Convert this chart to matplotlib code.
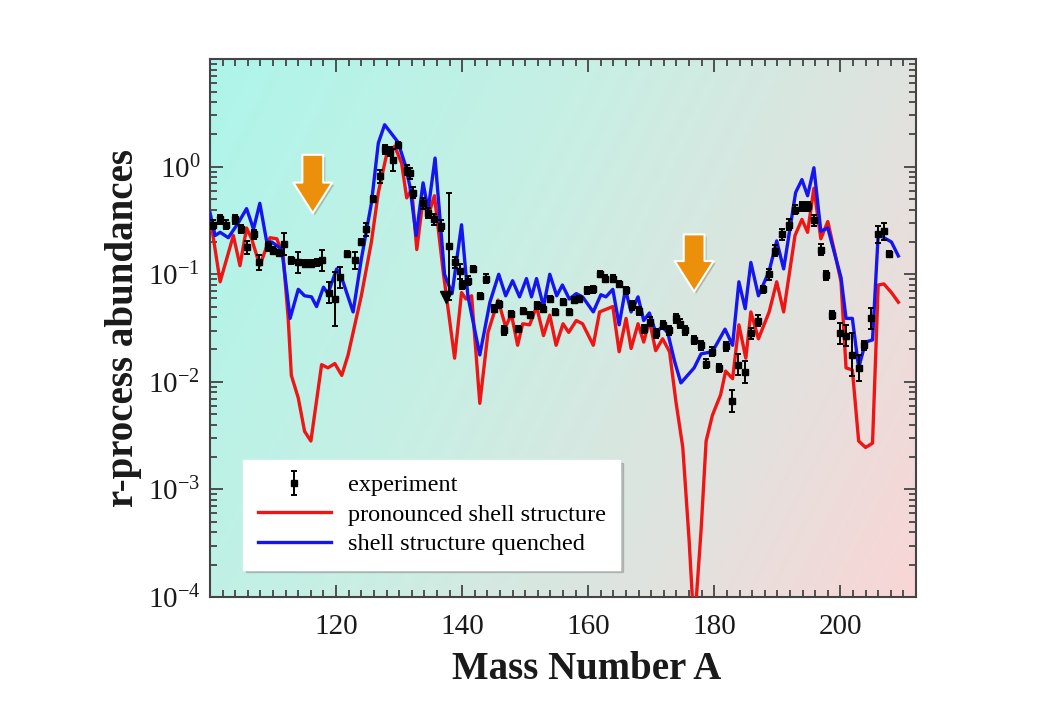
import numpy as np
import matplotlib.pyplot as plt
import matplotlib.patheffects as pe
from matplotlib.colors import LinearSegmentedColormap
from matplotlib.ticker import MultipleLocator, LogLocator, NullFormatter

plt.rcParams['font.family'] = ['Liberation Serif', 'DejaVu Serif']
plt.rcParams['mathtext.fontset'] = 'custom'
plt.rcParams['mathtext.rm'] = 'Liberation Serif'
plt.rcParams['axes.unicode_minus'] = False

# ---- data (abundances read as log10 values) ----
blue_A = [100.0, 100.8, 101.6, 102.9, 104.5, 105.8, 106.9, 107.9, 109.0, 109.8,
          111.4, 112.7, 114.0, 115.0, 116.1, 116.9, 118.0, 118.7, 120.1, 121.1,
          122.7, 124.0, 125.6, 126.7, 127.7, 129.8, 130.9, 131.7, 132.7, 133.8,
          134.6, 135.7, 137.2, 138.4, 139.9, 140.9, 142.8, 144.4, 145.8, 146.9,
          148.0, 149.1, 150.2, 151.0, 151.8, 152.9, 153.9, 155.0, 155.9, 157.0,
          158.1, 159.1, 160.8, 162.0, 162.8, 163.9, 164.9, 165.9, 166.8, 167.9,
          168.8, 169.7, 170.7, 171.7, 172.6, 173.7, 174.7, 176.8, 177.9, 179.7,
          181.7, 182.9, 183.9, 184.9, 185.8, 187.0, 188.7, 189.9, 191.0, 192.9,
          193.9, 194.8, 195.8, 196.9, 198.0, 200.1, 200.9, 201.9, 202.9, 204.0,
          205.1, 206.0, 206.9, 208.1, 209.2]
blue_log = [-0.43, -0.64, -0.61, -0.66, -0.52, -0.39, -0.58, -0.34, -0.70, -0.70,
            -0.77, -1.41, -1.14, -1.20, -1.21, -1.30, -1.12, -1.18, -0.95, -1.07,
            -1.35, -0.86, -0.34, 0.22, 0.39, 0.23, 0.03, -0.18, -0.64, -0.15,
            -0.40, 0.08, -1.00, -1.18, -0.54, -1.20, -1.75, -1.26, -1.00, -1.20,
            -1.06, -1.21, -1.04, -1.21, -1.04, -1.30, -1.00, -1.20, -1.10, -1.23,
            -1.18, -1.21, -1.35, -1.19, -1.21, -1.14, -1.47, -1.14, -1.35, -1.21,
            -1.43, -1.36, -1.54, -1.49, -1.54, -1.81, -2.01, -1.87, -1.74, -1.72,
            -1.51, -1.66, -1.07, -1.32, -0.89, -1.20, -0.97, -0.69, -0.95, -0.24,
            -0.12, -0.27, -0.01, -0.60, -0.57, -1.03, -1.41, -1.41, -1.87, -1.63,
            -1.61, -0.63, -0.66, -0.70, -0.83]

red_A = [100.0, 101.6, 103.7, 104.75, 105.8, 106.6, 107.9, 109.5, 110.6, 111.6,
         112.4, 112.9, 114.0, 115.0, 116.0, 117.7, 118.7, 119.8, 120.9, 121.9,
         124.0, 125.6, 126.7, 128.0, 129.3, 130.4, 131.2, 132.0, 132.8, 133.8,
         134.6, 135.6, 137.0, 138.8, 139.9, 140.6, 141.5, 142.8, 144.1, 145.7,
         146.9, 147.8, 148.8, 149.6, 150.7, 151.8, 152.9, 153.9, 154.9, 156.0,
         156.9, 158.1, 159.1, 160.8, 161.8, 163.9, 164.9, 166.0, 166.8, 167.9,
         168.8, 169.7, 170.7, 171.8, 172.9, 173.9, 175.0, 176.0, 176.8, 177.9,
         178.7, 179.7, 181.0, 181.8, 182.9, 183.9, 185.0, 185.8, 187.0, 188.7,
         189.9, 191.0, 192.8, 193.9, 194.8, 195.8, 196.9, 198.0, 199.0, 200.1,
         200.9, 201.9, 202.9, 204.0, 205.1, 206.0, 206.9, 208.1, 209.2]
red_log = [-0.46, -1.07, -0.64, -0.92, -0.57, -0.67, -0.92, -0.66, -0.67, -0.83,
           -1.41, -1.94, -2.15, -2.46, -2.55, -1.84, -1.87, -1.83, -1.94, -1.75,
           -1.20, -0.70, -0.24, 0.11, 0.19, 0.03, -0.29, -0.21, -0.77, -0.30,
           -0.46, -0.27, -0.98, -1.78, -1.17, -1.23, -1.20, -2.20, -1.54, -1.24,
           -1.49, -1.37, -1.66, -1.46, -1.47, -1.30, -1.57, -1.38, -1.66, -1.46,
           -1.54, -1.43, -1.46, -1.66, -1.35, -1.30, -1.72, -1.41, -1.69, -1.46,
           -1.63, -1.43, -1.71, -1.60, -1.72, -2.18, -2.61, -3.47, -4.30, -3.38,
           -2.55, -2.31, -2.12, -1.90, -1.97, -1.47, -1.78, -1.35, -1.60, -1.35,
           -1.07, -1.35, -0.64, -0.49, -0.61, -0.20, -0.67, -0.51, -0.77, -1.07,
           -1.87, -1.89, -2.55, -2.61, -2.57, -1.10, -1.09, -1.17, -1.26]

exp_A = [100.5, 101.6, 102.6, 104.0, 104.9, 105.8, 106.9, 107.7, 109.2, 110.0,
         110.9, 111.8, 112.9, 114.0, 115.0, 116.0, 116.9, 117.8, 118.8, 119.8,
         120.6, 121.7, 123.0, 124.0, 124.8, 125.9, 126.9, 127.7, 128.5, 129.0,
         129.8, 131.2, 131.8, 132.2, 133.8, 134.6, 135.6, 136.7, 137.9, 138.8,
         139.6, 139.9, 140.9, 141.7, 142.8, 143.8, 145.1, 145.8, 146.7, 147.8,
         148.8, 149.7, 150.7, 151.8, 152.9, 153.9, 154.8, 156.0, 156.9, 157.8,
         158.6, 159.8, 160.8, 161.8, 162.7, 163.9, 164.9, 166.0, 166.9, 168.0,
         168.8, 169.8, 170.7, 171.8, 172.8, 173.9, 174.5, 175.3, 176.8, 177.9,
         178.7, 179.7, 180.8, 181.8, 182.8, 183.8, 184.8, 185.8, 186.9, 187.7,
         188.7, 189.7, 190.8, 191.8, 192.8, 193.9, 194.8, 195.8, 196.9, 197.7,
         198.7, 199.9, 200.9, 201.8, 202.9, 203.8, 204.8, 205.9, 206.9, 207.7]
exp_log = [-0.54, -0.49, -0.54, -0.49, -0.58, -0.75, -0.63, -0.89, -0.74, -0.78,
           -0.80, -0.72, -0.87, -0.89, -0.90, -0.90, -0.89, -0.87, -1.17, -1.23,
           -1.03, -0.81, -0.87, -0.70, -0.58, -0.30, -0.09, 0.16, 0.14, 0.06,
           0.20, -0.03, -0.06, -0.24, -0.34, -0.43, -0.49, -0.55, -0.74, -0.89,
           -0.97, -1.10, -1.06, -0.95, -1.20, -1.04, -1.32, -1.28, -1.52, -1.37,
           -1.51, -1.34, -1.38, -1.29, -1.32, -1.23, -1.35, -1.26, -1.35, -1.24,
           -1.23, -1.15, -1.14, -1.00, -1.04, -1.04, -1.09, -1.15, -1.29, -1.34,
           -1.51, -1.44, -1.55, -1.47, -1.52, -1.41, -1.46, -1.52, -1.61, -1.66,
           -1.83, -1.72, -1.87, -1.67, -2.18, -1.84, -1.91, -1.55, -1.43, -1.14,
           -1.00, -0.78, -0.63, -0.54, -0.40, -0.37, -0.37, -0.50, -0.77, -1.01,
           -1.38, -1.55, -1.57, -1.75, -1.87, -1.66, -1.41, -0.63, -0.60, -0.81]
exp_err = [0.04, 0.04, 0.04, 0.04, 0.04, 0.06, 0.04, 0.07, 0.04, 0.03,
           0.03, 0.10, 0.03, 0.10, 0.03, 0.03, 0.03, 0.10, 0.10, 0.25,
           0.10, 0.03, 0.08, 0.03, 0.06, 0.03, 0.06, 0.04, 0.04, 0.10,
           0.03, 0.05, 0.05, 0.05, 0.05, 0.05, 0.05, 0.05, 0.50, 0.05,
           0.07, 0.04, 0.04, 0.03, 0.03, 0.04, 0.03, 0.03, 0.04, 0.03,
           0.03, 0.03, 0.03, 0.03, 0.03, 0.03, 0.03, 0.03, 0.03, 0.03,
           0.03, 0.03, 0.03, 0.03, 0.03, 0.03, 0.03, 0.03, 0.04, 0.04,
           0.04, 0.04, 0.04, 0.04, 0.04, 0.04, 0.04, 0.04, 0.04, 0.04,
           0.04, 0.04, 0.04, 0.04, 0.10, 0.10, 0.10, 0.05, 0.05, 0.03,
           0.05, 0.05, 0.05, 0.05, 0.04, 0.04, 0.04, 0.05, 0.05, 0.04,
           0.04, 0.10, 0.10, 0.20, 0.12, 0.04, 0.10, 0.08, 0.08, 0.03]

limit_A = [137.5]
limit_log = [-1.21]

# arrows marking the shell-closure regions (A, top value, tip value)
arrow_A = [116.3, 176.8]
arrow_top = [1.29, 0.235]
arrow_tip = [0.37, 0.069]

x_ticks = [120, 140, 160, 180, 200]
labels = ['experiment', 'pronounced shell structure', 'shell structure quenched']

# ---- figure ----
fig = plt.figure(figsize=(10.47, 7.21), dpi=100)
ax = fig.add_axes([0.2006, 0.172, 0.6743, 0.746])

bg = LinearSegmentedColormap.from_list(
    'bg', [(0, '#aef5ea'), (0.4, '#c8efe4'), (0.72, '#e0e3df'), (1, '#f9d6d6')])
u, v = np.meshgrid(np.linspace(0, 1, 300), np.linspace(0, 1, 300))
ax.imshow(0.72 * u + 0.28 * (1 - v), cmap=bg, extent=[0, 1, 0, 1],
          origin='lower', transform=ax.transAxes, aspect='auto', zorder=0,
          interpolation='bilinear')

ax.set_yscale('log')
ax.set_xlim(100, 212)
ax.set_ylim(1e-4, 10)

red_line, = ax.plot(red_A, np.power(10.0, red_log), color='#f01515', lw=2.4, zorder=3)
blue_line, = ax.plot(blue_A, np.power(10.0, blue_log), color='#1515f0', lw=2.4, zorder=4)

ev = np.power(10.0, exp_log)
ee = np.array(exp_err)
err = ax.errorbar(exp_A, ev, yerr=[ev - ev * 10 ** -ee, ev * 10 ** ee - ev],
                  fmt='s', color='black', ms=4.3, capsize=2.4, elinewidth=1.4,
                  capthick=1.4, zorder=5)
ax.plot(limit_A, np.power(10.0, limit_log), 'v', color='black', ms=8, zorder=5)

for a, top, tip in zip(arrow_A, arrow_top, arrow_tip):
    ax.annotate('', xy=(a, tip), xytext=(a, top),
                arrowprops=dict(arrowstyle='simple,head_length=2.2,head_width=2.8,tail_width=1.5',
                                mutation_scale=10, fc='#ec900c', ec='white', lw=1.5,
                                shrinkA=0, shrinkB=0,
                                path_effects=[pe.SimplePatchShadow(offset=(1.5, -1.5), alpha=0.25),
                                              pe.Normal()]),
                zorder=6)

ax.set_xticks(x_ticks)
ax.xaxis.set_minor_locator(MultipleLocator(2))
ax.set_yticks([1e-4, 1e-3, 1e-2, 1e-1, 1e0])
ax.yaxis.set_minor_locator(LogLocator(base=10, subs=np.arange(2, 10)))
ax.yaxis.set_minor_formatter(NullFormatter())

ax.tick_params(which='both', direction='in', top=True, right=True,
               color='#444444', width=1.3)
ax.tick_params(which='major', length=9, labelsize=21, labelcolor='#1a1a1a')
ax.tick_params(which='minor', length=5)
ax.tick_params(axis='x', which='major', pad=12)
ax.tick_params(axis='y', which='major', pad=7)
for s in ax.spines.values():
    s.set_color('#444444')
    s.set_linewidth(1.5)

ax.set_xlabel('Mass Number A', fontsize=28, fontweight='bold', color='#1a1a1a')
ax.set_ylabel('r-process abundances', fontsize=28, fontweight='bold', color='#1a1a1a')
ax.xaxis.set_label_coords(0.533, -0.1)
ax.yaxis.set_label_coords(-0.097, 0.5)

leg = ax.legend([err, red_line, blue_line], labels, loc='upper left',
                bbox_to_anchor=(0.047, 0.255), borderaxespad=0, fontsize=17.5,
                frameon=True, fancybox=False, framealpha=1, edgecolor='white',
                shadow={'color': '0.55', 'alpha': 0.45}, handlelength=3.0,
                labelspacing=0.3, borderpad=0.6, handletextpad=0.7)
leg.set_zorder(7)

fig.savefig('out.png', dpi=100)
